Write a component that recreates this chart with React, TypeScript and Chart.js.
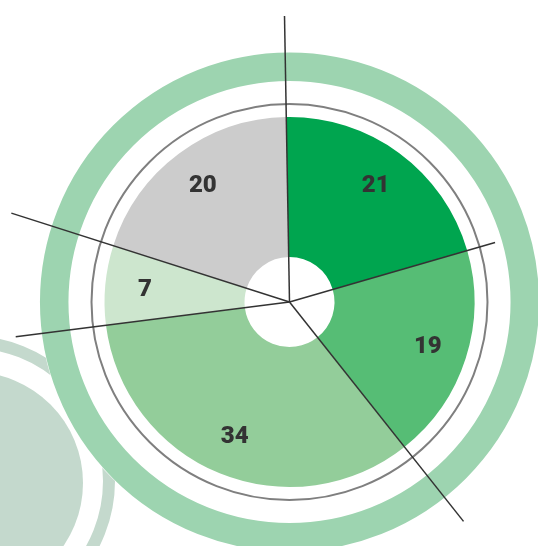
import React, { useEffect, useRef } from 'react';
import { Chart, registerables } from 'chart.js';

Chart.register(...registerables);

// ---- data ----
const categories = ['Segment 1', 'Segment 2', 'Segment 3', 'Segment 4', 'Segment 5'];
const values = [21, 19, 34, 7, 20];
const sliceColors = ['#00a54f', '#56bd75', '#93cd9a', '#cde6ce', '#cccccc'];
// length (px) of the dark separator line drawn at the start of each slice
const separatorLengths = [286, 214, 280, 276, 292];

const W = 538;
const H = 546;

const decorPlugin = {
  id: 'decor',
  beforeDatasetsDraw(chart: any) {
    const ctx = chart.ctx as CanvasRenderingContext2D;
    const arc = chart.getDatasetMeta(0).data[0] as any;
    if (!arc) return;
    const cx = arc.x;
    const cy = arc.y;
    ctx.save();
    // bottom-left decorative disc + ring
    ctx.fillStyle = '#c4d9cd';
    ctx.beginPath();
    ctx.arc(-28, 483, 111, 0, Math.PI * 2);
    ctx.fill();
    ctx.strokeStyle = '#c4d9cd';
    ctx.lineWidth = 12;
    ctx.beginPath();
    ctx.arc(-30, 481, 139, 0, Math.PI * 2);
    ctx.stroke();
    // white backing disc of the main chart
    ctx.fillStyle = '#ffffff';
    ctx.beginPath();
    ctx.arc(cx, cy, 250, 0, Math.PI * 2);
    ctx.fill();
    // outer green band
    ctx.strokeStyle = '#9dd4b0';
    ctx.lineWidth = 28.5;
    ctx.beginPath();
    ctx.arc(cx, cy, 235.3, 0, Math.PI * 2);
    ctx.stroke();
    // thin gray ring
    ctx.strokeStyle = '#7f7f7f';
    ctx.lineWidth = 2;
    ctx.beginPath();
    ctx.arc(cx, cy, 198, 0, Math.PI * 2);
    ctx.stroke();
    ctx.restore();
  },
  afterDatasetsDraw(chart: any) {
    const ctx = chart.ctx as CanvasRenderingContext2D;
    const meta = chart.getDatasetMeta(0);
    const arcs = meta.data as any[];
    if (!arcs.length) return;
    ctx.save();
    // separator lines
    ctx.strokeStyle = '#333333';
    ctx.lineWidth = 1.5;
    arcs.forEach((a, i) => {
      const ang = a.startAngle;
      const L = separatorLengths[i];
      ctx.beginPath();
      ctx.moveTo(a.x, a.y);
      ctx.lineTo(a.x + Math.cos(ang) * L, a.y + Math.sin(ang) * L);
      ctx.stroke();
    });
    // value labels
    ctx.fillStyle = '#333333';
    ctx.font = '900 24px Roboto';
    ctx.textAlign = 'center';
    ctx.textBaseline = 'middle';
    arcs.forEach((a, i) => {
      const mid = (a.startAngle + a.endAngle) / 2;
      const r = a.outerRadius * 0.785;
      ctx.fillText(String(values[i]), a.x + Math.cos(mid) * r, a.y + Math.sin(mid) * r + 1);
    });
    ctx.restore();
  },
};

export default function App() {
  const ref = useRef<HTMLCanvasElement | null>(null);
  useEffect(() => {
    if (!ref.current) return;
    const chart = new Chart(ref.current, {
      type: 'doughnut',
      data: {
        labels: categories,
        datasets: [
          {
            data: values,
            backgroundColor: sliceColors,
            borderWidth: 0,
            hoverOffset: 0,
          },
        ],
      },
      options: {
        responsive: false,
        animation: false,
        events: [],
        rotation: -1.0,
        cutout: 45,
        radius: 185,
        layout: { padding: { left: 104.5, right: 63.5, top: 116, bottom: 58 } },
        plugins: {
          legend: { display: false },
          tooltip: { enabled: false },
        },
      },
      plugins: [decorPlugin],
    });
    return () => chart.destroy();
  }, []);
  return (
    <div style={{ position: 'fixed', left: 0, top: 0, width: W, height: H, background: '#fff' }}>
      <canvas ref={ref} width={W} height={H} style={{ width: W, height: H, display: 'block' }} />
    </div>
  );
}
